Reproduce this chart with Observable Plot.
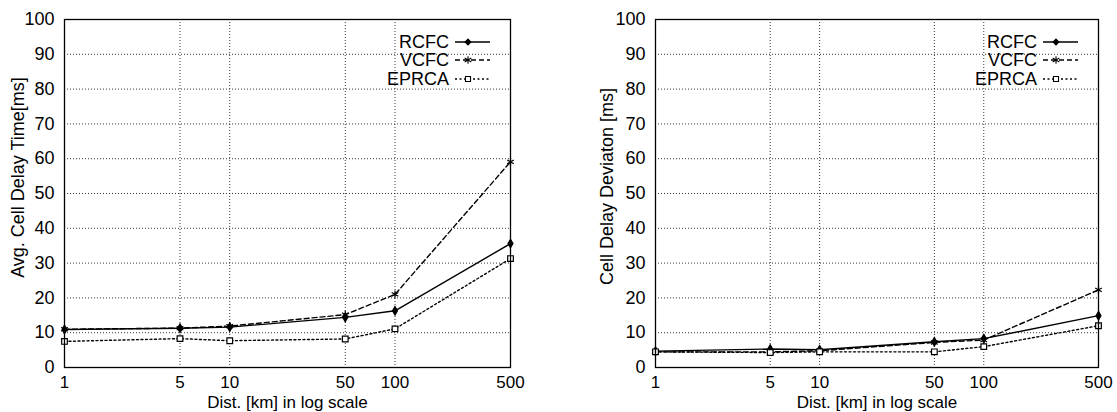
<!DOCTYPE html>
<html>
<head>
<meta charset="utf-8">
<script src="https://cdn.jsdelivr.net/npm/d3@7"></script>
<script src="https://cdn.jsdelivr.net/npm/@observablehq/plot@0.6"></script>
<style>
  html, body { margin: 0; padding: 0; background: #fff; }
  #wrap { display: flex; flex-direction: row; width: 1117px; height: 412px; overflow: hidden; }
  svg { font-family: "Liberation Sans", Arial, Helvetica, sans-serif; }
</style>
</head>
<body>
<div id="wrap"></div>
<script>
// ---- data ----
const distances = [1, 5, 10, 50, 100, 500];
const seriesNames = ["RCFC", "VCFC", "EPRCA"];

const delayRCFC  = [10.9, 11.3, 11.6, 14.4, 16.3, 35.6];
const delayVCFC  = [11.0, 11.3, 11.9, 15.2, 21.0, 59.1];
const delayEPRCA = [7.5, 8.3, 7.7, 8.2, 11.1, 31.3];

const devRCFC  = [4.7, 5.3, 5.1, 7.4, 8.3, 14.9];
const devVCFC  = [4.5, 4.5, 4.8, 7.2, 7.9, 22.3];
const devEPRCA = [4.5, 4.3, 4.5, 4.5, 6.0, 12.0];

const xTickValues = [1, 5, 10, 50, 100, 500];
const yTickValues = [0, 10, 20, 30, 40, 50, 60, 70, 80, 90, 100];

const xLabel = "Dist. [km] in log scale";
const yLabelLeft = "Avg. Cell Delay Time[ms]";
const yLabelRight = "Cell Delay Deviaton [ms]";

// ---- styles ----
const styles = {
  RCFC:  {dash: null,  symbol: "diamond",  fill: "black", stroke: "black", r: 2.6},
  VCFC:  {dash: "5,3", symbol: "asterisk", fill: "none",  stroke: "black", r: 3.6},
  EPRCA: {dash: "2,2.5", symbol: "square", fill: "white", stroke: "black", r: 3.2}
};
const FONT = 18;
const XFONT = 17;

function table(a, b, c) {
  const rows = [];
  [a, b, c].forEach((vals, i) => vals.forEach((v, j) => rows.push({series: seriesNames[i], x: distances[j], y: v})));
  return rows;
}

function panel({rows, width, marginLeft, marginRight, yLabel, yLabelDx, yLabelDy}) {
  const height = 412, marginTop = 19, marginBottom = 45;
  const gridStyle = {stroke: "#222", strokeOpacity: 0.9, strokeDasharray: "1,2", strokeWidth: 1};
  const marks = [
    Plot.gridY(yTickValues.filter(d => d > 0 && d < 100), gridStyle),
    Plot.gridX(xTickValues.filter(d => d > 1 && d < 500), gridStyle),
    Plot.axisY({ticks: yTickValues, tickSize: 0, tickPadding: 10, label: null, fontSize: FONT}),
    Plot.text(xTickValues, {x: d => d, text: d => String(d), frameAnchor: "bottom", lineAnchor: "middle", dy: 15, fontSize: XFONT, fill: "black"}),
  ];
  for (const s of seriesNames) {
    const st = styles[s];
    const data = rows.filter(d => d.series === s);
    marks.push(Plot.line(data, {x: "x", y: "y", stroke: "black", strokeWidth: 1.4, strokeDasharray: st.dash}));
  }
  for (const s of seriesNames) {
    const st = styles[s];
    const data = rows.filter(d => d.series === s);
    marks.push(Plot.dot(data, {x: "x", y: "y", symbol: () => st.symbol, r: st.r, fill: st.fill, stroke: st.stroke, strokeWidth: 1.2}));
  }
  marks.push(Plot.frame({stroke: "black", strokeWidth: 1.3}));
  marks.push(Plot.text([xLabel], {text: d => d, frameAnchor: "bottom", lineAnchor: "middle", textAnchor: "middle", dy: 35, fontSize: XFONT, fill: "black"}));
  marks.push(Plot.text([yLabel], {text: d => d, frameAnchor: "left", textAnchor: "middle", lineAnchor: "middle", rotate: -90, dx: yLabelDx, dy: yLabelDy, fontSize: FONT, fill: "black"}));

  const svg = Plot.plot({
    width, height, marginTop, marginBottom, marginLeft, marginRight,
    style: {fontFamily: '"Liberation Sans", Arial, Helvetica, sans-serif', fontSize: FONT + "px", color: "black", background: "white"},
    x: {type: "log", domain: [1, 500], nice: false, axis: null},
    y: {domain: [0, 100], nice: false},
    marks
  });

  // legend (layout element, top-right inside frame)
  const frameRight = width - marginRight;
  const g = d3.select(svg).append("g").attr("font-size", FONT).attr("fill", "black");
  const rowsY = [marginTop + 23, marginTop + 41, marginTop + 60];
  const symMap = {diamond: d3.symbolDiamond2, asterisk: d3.symbolAsterisk, square: d3.symbolSquare2};
  seriesNames.forEach((s, i) => {
    const st = styles[s];
    const y = rowsY[i];
    g.append("text").attr("x", frameRight - 61).attr("y", y).attr("text-anchor", "end").attr("dy", "0.35em").text(s);
    g.append("line").attr("x1", frameRight - 55).attr("x2", frameRight - 20).attr("y1", y).attr("y2", y)
      .attr("stroke", "black").attr("stroke-width", 1.3).attr("stroke-dasharray", st.dash);
    g.append("path").attr("transform", `translate(${frameRight - 42},${y})`)
      .attr("d", d3.symbol(symMap[st.symbol], st.r * st.r * Math.PI)())
      .attr("fill", st.fill).attr("stroke", st.stroke).attr("stroke-width", 1.1);
  });
  return svg;
}

const wrap = document.getElementById("wrap");
wrap.appendChild(panel({rows: table(delayRCFC, delayVCFC, delayEPRCA), width: 558, marginLeft: 64, marginRight: 48, yLabel: yLabelLeft, yLabelDx: -46, yLabelDy: -16}));
wrap.appendChild(panel({rows: table(devRCFC, devVCFC, devEPRCA), width: 559, marginLeft: 97, marginRight: 19, yLabel: yLabelRight, yLabelDx: -48, yLabelDy: -7}));
</script>
</body>
</html>
